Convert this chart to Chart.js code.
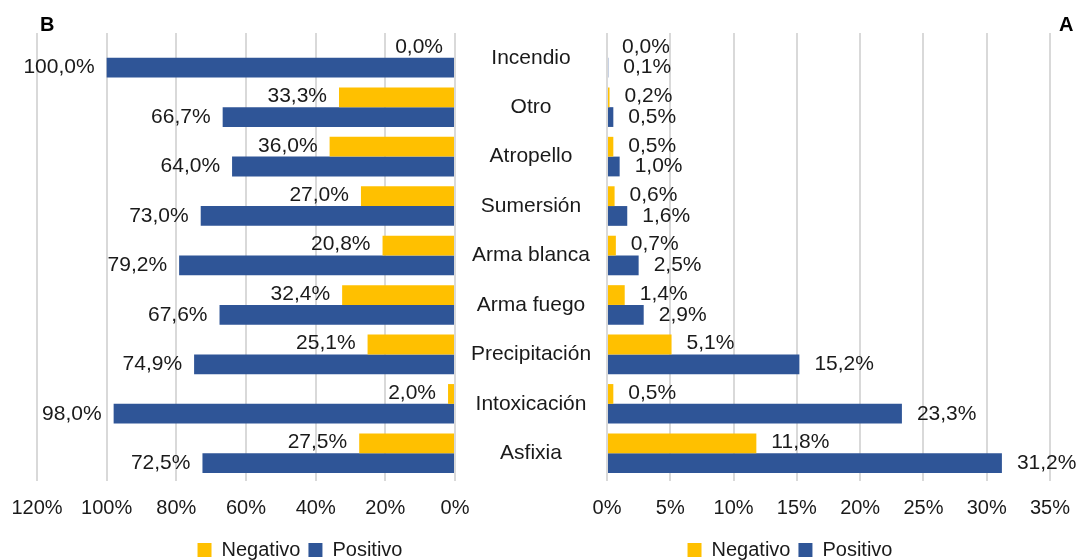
<!DOCTYPE html>
<html>
<head>
<meta charset="utf-8">
<script src="https://cdn.jsdelivr.net/npm/chart.js@4/dist/chart.umd.min.js"></script>
<style>
  html, body { margin: 0; padding: 0; background: #fff; width: 1079px; height: 560px; overflow: hidden; }
  #wrap { position: relative; width: 1079px; height: 560px; overflow: hidden; }
  canvas { position: absolute; top: 0; }
  #cB { left: 0; }
  #cA { left: 455px; }
  .panel { position: absolute; font: bold 20px "Liberation Sans", Arial, sans-serif; color: #000; }
</style>
</head>
<body>
<div id="wrap">
  <canvas id="cB" width="600" height="560"></canvas>
  <canvas id="cA" width="670" height="560"></canvas>
  <div class="panel" style="left:40px; top:13px;">B</div>
  <div class="panel" style="left:1059px; top:13px;">A</div>
</div>
<script>
// ---- data ----
const categories = ["Incendio", "Otro", "Atropello", "Sumersión", "Arma blanca", "Arma fuego", "Precipitación", "Intoxicación", "Asfixia"];
const seriesNames = ["Negativo", "Positivo"];
const negativoB = [0.0, 33.3, 36.0, 27.0, 20.8, 32.4, 25.1, 2.0, 27.5];
const positivoB = [100.0, 66.7, 64.0, 73.0, 79.2, 67.6, 74.9, 98.0, 72.5];
const negativoA = [0.0, 0.2, 0.5, 0.6, 0.7, 1.4, 5.1, 0.5, 11.8];
const positivoA = [0.1, 0.5, 1.0, 1.6, 2.5, 2.9, 15.2, 23.3, 31.2];
const panelLabels = ["B", "A"];
const ticksB = { min: 0, max: 120, step: 20 };
const ticksA = { min: 0, max: 35, step: 5 };

// ---- style ----
const FONT_FAMILY = '"Liberation Sans", Arial, sans-serif';
const FONT_SIZE = 20;
const LABEL_SIZE = 21;
const TEXT = '#1a1a1a';
const YELLOW = '#FFC000';
const BLUE = '#2F5597';
const GRID = '#D9D9D9';

Chart.defaults.font.family = FONT_FAMILY;
Chart.defaults.font.size = FONT_SIZE;
Chart.defaults.color = TEXT;

function fmt(v) { return v.toFixed(1).replace('.', ',') + '%'; }

const valueLabels = {
  id: 'valueLabels',
  afterDatasetsDraw(chart, args, opts) {
    const ctx = chart.ctx;
    ctx.save();
    ctx.font = LABEL_SIZE + 'px ' + FONT_FAMILY;
    ctx.fillStyle = TEXT;
    ctx.textBaseline = 'middle';
    chart.data.datasets.forEach((ds, i) => {
      const meta = chart.getDatasetMeta(i);
      meta.data.forEach((el, j) => {
        const t = fmt(ds.data[j]);
        const dy = i === 0 ? -1 : 0;
        if (opts.side === 'left') {
          ctx.textAlign = 'right';
          ctx.fillText(t, el.x - opts.offset, el.y + dy);
        } else {
          ctx.textAlign = 'left';
          ctx.fillText(t, el.x + opts.offset, el.y + dy);
        }
      });
    });
    ctx.restore();
  }
};

function datasets(neg, pos) {
  return [
    { label: seriesNames[0], data: neg, backgroundColor: YELLOW, borderWidth: 0, categoryPercentage: 0.8, barPercentage: 1.0 },
    { label: seriesNames[1], data: pos, backgroundColor: BLUE, borderWidth: 0, categoryPercentage: 0.8, barPercentage: 1.0 }
  ];
}

function xScale(t, reverse) {
  return {
    type: 'linear', min: t.min, max: t.max, reverse: reverse,
    ticks: { stepSize: t.step, padding: 11, callback: v => v + '%', color: TEXT, maxRotation: 0, autoSkip: false,
             font: { size: FONT_SIZE, lineHeight: 1.65 } },
    grid: { color: GRID, lineWidth: 2, tickLength: 3, drawTicks: true },
    border: { display: false },
    afterFit: s => { s.height = 54; }
  };
}

function dummyAxis(pos, w) {
  return {
    type: 'linear', position: pos, display: true,
    ticks: { display: false }, grid: { display: false, drawTicks: false }, border: { display: false },
    afterFit: s => { s.width = w; }
  };
}

const legendOpts = {
  position: 'bottom',
  labels: { boxWidth: 14, boxHeight: 14, padding: 8, color: TEXT, font: { size: FONT_SIZE } }
};

// measure widest category to center labels at x=531
const mctx = document.createElement('canvas').getContext('2d');
mctx.font = LABEL_SIZE + 'px ' + FONT_FAMILY;
const widest = Math.max(...categories.map(c => mctx.measureText(c).width));
const catPad = Math.max(0, 76 - widest / 2);

// ---- chart B (left, reversed) ----
new Chart(document.getElementById('cB'), {
  type: 'bar',
  data: { labels: categories, datasets: datasets(negativoB, positivoB) },
  options: {
    indexAxis: 'y', responsive: false, animation: false, devicePixelRatio: 1,
    layout: { padding: { top: 33, bottom: -10, left: 0, right: 0 } },
    scales: {
      x: xScale(ticksB, true),
      y: { type: 'category', position: 'right', display: true,
           ticks: { display: false }, grid: { display: false, drawTicks: false }, border: { display: false },
           afterFit: s => { s.width = 145; } },
      padL: dummyAxis('left', 37)
    },
    plugins: { legend: legendOpts, tooltip: { enabled: false }, valueLabels: { side: 'left', offset: 12 } }
  },
  plugins: [valueLabels]
});

// ---- chart A (right) ----
new Chart(document.getElementById('cA'), {
  type: 'bar',
  data: { labels: categories, datasets: datasets(negativoA, positivoA) },
  options: {
    indexAxis: 'y', responsive: false, animation: false, devicePixelRatio: 1,
    layout: { padding: { top: 33, bottom: -10, left: 0, right: 0 } },
    scales: {
      x: xScale(ticksA, false),
      y: { type: 'category', position: 'left', display: true,
           ticks: { crossAlign: 'center', padding: catPad, color: TEXT, font: { size: LABEL_SIZE } },
           grid: { display: false, drawTicks: false }, border: { display: false },
           afterFit: s => { s.width = 152; } },
      padR: dummyAxis('right', 75)
    },
    plugins: { legend: legendOpts, tooltip: { enabled: false }, valueLabels: { side: 'right', offset: 15 } }
  },
  plugins: [valueLabels]
});
</script>
</body>
</html>
